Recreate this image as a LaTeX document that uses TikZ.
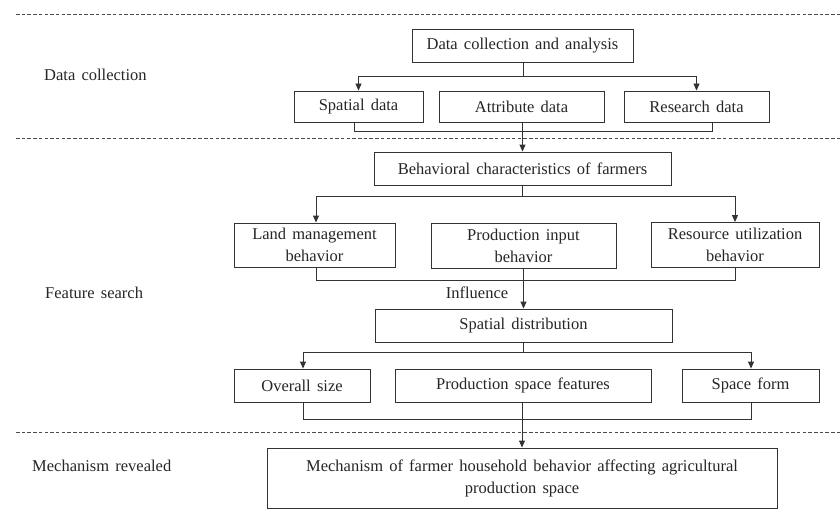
\documentclass[tikz,border=0pt]{standalone}
\usepackage{fontspec}
\setmainfont{Liberation Serif}[WordSpace=1.5]
\usetikzlibrary{arrows.meta,calc}
\begin{document}
\begin{tikzpicture}[x=1pt,y=-1pt,
  every node/.style={font=\fontsize{16.5}{22}\selectfont, text=black!85},
  box/.style={draw=black!80, line width=0.9pt, inner sep=0pt, align=center},
  conn/.style={draw=black!80, line width=0.9pt},
  arr/.style={conn, -{Triangle[length=7pt,width=6pt]}},
  sep/.style={draw=black!70, line width=0.9pt, dash pattern=on 3.5pt off 2.2pt},
  lbl/.style={anchor=west, inner sep=0pt}]
\useasboundingbox (0,0) rectangle (840,516);
\fill[white] (0,0) rectangle (840,516);

% separators
\draw[sep] (16,14) -- (840,14);
\draw[sep] (16,138) -- (840,138);
\draw[sep] (16,432) -- (840,432);

% left labels
\node[lbl] (l1) at (44,75) {Data collection};
\node[lbl] (l2) at (45,293) {Feature search};
\node[lbl] (l3) at (32,466) {Mechanism revealed};

% boxes
\node[box, minimum width=221pt, minimum height=33pt] (dca) at (522.5,45.5) {Data collection and analysis};
\node[box, minimum width=129pt, minimum height=31pt] (sd) at (358.5,106.5) {Spatial data};
\node[box, minimum width=165pt, minimum height=31pt] (ad) at (521.5,106.5) {Attribute data};
\node[box, minimum width=145pt, minimum height=31pt] (rd) at (696.5,106.5) {Research data};

\node[box, minimum width=297pt, minimum height=33pt] (bcf) at (522.5,168.5) {Behavioral characteristics of farmers};
\node[box, minimum width=161pt, minimum height=44pt] (lmb) at (314.5,245) {Land management\\behavior};
\node[box, minimum width=185pt, minimum height=45pt] (pib) at (523.5,245.5) {Production input\\behavior};
\node[box, minimum width=168pt, minimum height=45pt] (rub) at (735,245) {Resource utilization\\behavior};

\node[box, minimum width=297pt, minimum height=33pt] (sdist) at (523.5,325.5) {Spatial distribution};
\node[box, minimum width=136pt, minimum height=33pt] (os) at (302,385.5) {Overall size};
\node[box, minimum width=256pt, minimum height=33pt] (psf) at (523,385.5) {Production space features};
\node[box, minimum width=137pt, minimum height=33pt] (sf) at (750.5,385.5) {Space form};

\node[box, minimum width=510pt, minimum height=60pt] (mech) at (522,478) {Mechanism of farmer household behavior affecting agricultural\\production space};

% junction coordinates
\coordinate (j1) at (523,76);
\coordinate (b1) at (354,131);
\coordinate (j2) at (522.5,196);
\coordinate (b2) at (316,280);
\coordinate (j3) at (523.5,352);
\coordinate (b3) at (303,419);

% data collection branch
\draw[conn] (dca.south -| j1) -- (j1);
\draw[arr] (j1 -| sd.north) -- (j1 -| rd.north) -- (rd.north);
\draw[arr] (j1 -| sd.north) -- (sd.north);
\draw[conn] (b1 |- sd.south) -- (b1) -- (b1 -| 712,0) -- (712,0 |- rd.south);
\draw[arr] (ad.south -| bcf.north) -- (bcf.north);

% behavioral branch
\draw[conn] (bcf.south) -- (j2);
\draw[arr] (j2 -| b2) -- (j2 -| rub.north) -- (rub.north);
\draw[arr] (j2 -| b2) -- (b2 |- lmb.north);
\draw[conn] (b2 |- lmb.south) -- (b2) -- (b2 -| rub.south) -- (rub.south);
\draw[arr] (pib.south -| sdist.north) -- (sdist.north);
\node[anchor=center, inner sep=0pt] (infl) at (477,293) {Influence};

% spatial distribution branch
\draw[conn] (sdist.south) -- (j3);
\draw[arr] (j3 -| b3) -- (j3 -| 751,0) -- (751,0 |- sf.north);
\draw[arr] (j3 -| b3) -- (b3 |- os.north);
\draw[conn] (b3 |- os.south) -- (b3) -- (b3 -| 751,0) -- (751,0 |- sf.south);
\draw[arr] (psf.south -| mech.north) -- (mech.north);
\end{tikzpicture}
\end{document}
